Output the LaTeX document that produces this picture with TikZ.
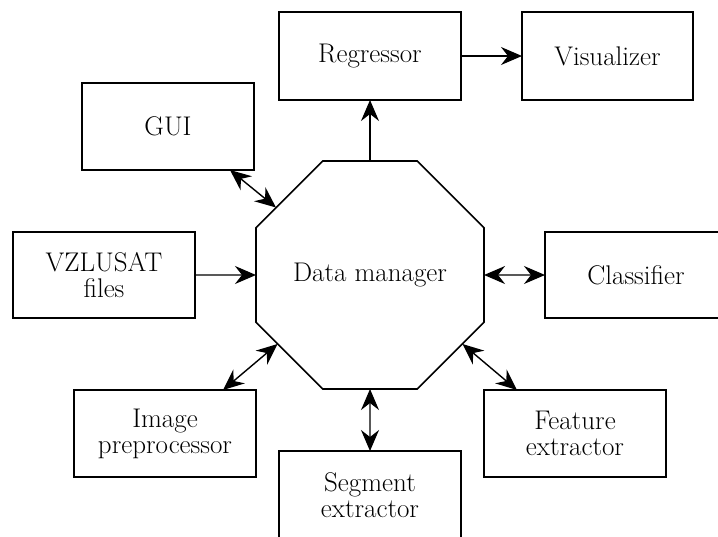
\documentclass[tikz,border=0pt]{standalone}
\usepackage{fontspec}
\setmainfont{Latin Modern Roman}
\usetikzlibrary{arrows.meta,shapes.geometric,calc}
\begin{document}
\begin{tikzpicture}[x=1pt,y=-1pt,
  box/.style={draw,line width=1.6pt,inner sep=0pt,outer sep=0pt,align=center,
    font={\fontsize{27}{26}\selectfont}},
  lnk/.style={line width=1.4pt,-{Stealth[length=21pt,width=18pt,inset=7pt]}},
  blnk/.style={line width=1.4pt,{Stealth[length=21pt,width=18pt,inset=7pt]}-{Stealth[length=21pt,width=18pt,inset=7pt]}}]
\clip (0,0) rectangle (718,536);
\useasboundingbox (0,0) rectangle (718,536);
% boxes
\node[box,minimum width=182pt,minimum height=88pt] (reg) at (370,56) {Regressor};
\node[box,minimum width=171pt,minimum height=88pt] (vis) at (607.5,56) {Visualizer};
\node[box,minimum width=172pt,minimum height=87pt] (gui) at (168,126.5) {GUI};
\node[box,minimum width=182pt,minimum height=86pt] (vz) at (104,275) {VZLUSAT\\files};
\node[box,minimum width=182pt,minimum height=86pt] (cls) at (636,275) {Classifier};
\node[box,minimum width=182pt,minimum height=87pt] (img) at (165,433.5) {Image\\preprocessor};
\node[box,minimum width=182pt,minimum height=88pt] (seg) at (370,495) {Segment\\extractor};
\node[box,minimum width=182pt,minimum height=87pt] (fea) at (575,433.5) {Feature\\extractor};
% octagon
\node[box,regular polygon,regular polygon sides=8,minimum size=246.8pt] (dm) at (370,275) {Data manager};
% points on octagon diagonal sides
\coordinate (dmnw) at (276,207.5);
\coordinate (dmsw) at (277.5,344);
\coordinate (dmse) at (462.5,344);
% connectors
\draw[lnk] (reg) -- (vis);
\draw[lnk] (dm) -- (reg);
\draw[lnk] (vz) -- (dm.west);
\draw[blnk] (dm.east) -- (cls);
\draw[blnk] ([xshift=-24pt]gui.south east) -- (dmnw);
\draw[blnk] ([xshift=-33pt]img.north east) -- (dmsw);
\draw[blnk] ([xshift=33pt]fea.north west) -- (dmse);
\draw[blnk] (dm.south) -- (seg.north);
\end{tikzpicture}
\end{document}
